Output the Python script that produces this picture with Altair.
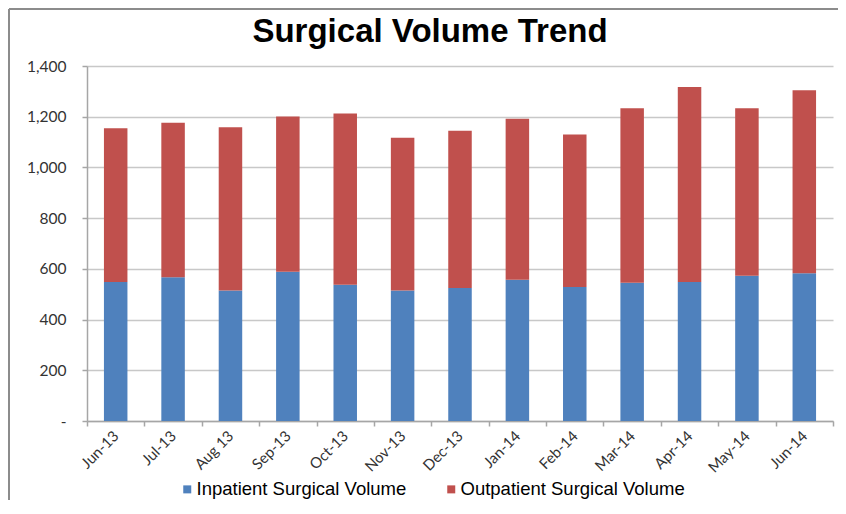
import altair as alt
import pandas as pd

months = ["Jun-13", "Jul-13", "Aug 13", "Sep-13", "Oct-13", "Nov-13", "Dec-13",
          "Jan-14", "Feb-14", "Mar-14", "Apr-14", "May-14", "Jun-14"]
inpatient = [548, 567, 515, 589, 537, 515, 525, 557, 528, 545, 548, 573, 583]
outpatient = [607, 609, 643, 612, 676, 602, 620, 635, 602, 688, 769, 660, 721]
series = ["Inpatient Surgical Volume", "Outpatient Surgical Volume"]
colors = ["#4F81BD", "#C0504D"]
y_ticks = [0, 200, 400, 600, 800, 1000, 1200, 1400]

rows = []
for m, a, b in zip(months, inpatient, outpatient):
    rows.append({"month": m, "series": series[0], "value": a, "ord": 0})
    rows.append({"month": m, "series": series[1], "value": b, "ord": 1})
df = pd.DataFrame(rows)

bars = alt.Chart(df).mark_bar(size=23.5).encode(
    x=alt.X("month:N", sort=months, title=None,
            scale=alt.Scale(paddingInner=0, paddingOuter=0),
            axis=alt.Axis(labelAngle=315, labelAlign="right", labelBaseline="middle",
                          labelFont="Lato", labelFontSize=15, labelColor="#333333",
                          labelPadding=7, tickBand="extent", tickSize=5,
                          tickColor="#a6a6a6", domainColor="#a6a6a6", domainWidth=1.5,
                          tickWidth=1.5, grid=False)),
    y=alt.Y("value:Q", stack="zero", title=None,
            scale=alt.Scale(domain=[0, 1400], nice=False),
            axis=alt.Axis(values=y_ticks,
                          labelExpr="datum.value == 0 ? '-' : format(datum.value, ',')",
                          labelFont="Lato", labelFontSize=15.5, labelColor="#333333",
                          labelPadding=16, tickSize=5, tickColor="#a6a6a6",
                          tickWidth=1.5, domainColor="#a6a6a6", domainWidth=1.5,
                          gridColor="#c8c8c8", gridWidth=1.5)),
    color=alt.Color("series:N", scale=alt.Scale(domain=series, range=colors),
                    legend=alt.Legend(title=None, orient="none", direction="horizontal",
                                      legendX=91, legendY=414, symbolType="square",
                                      symbolSize=64, symbolStrokeWidth=0,
                                      labelFont="Liberation Sans", labelFontSize=18.5,
                                      labelColor="#000000", labelOffset=0,
                                      labelLimit=400, columnPadding=35)),
    order=alt.Order("ord:Q"),
)

frame_df = pd.DataFrame({"k": [0]})
frame_left = alt.Chart(frame_df).mark_rule(color="#8c8c8c", strokeWidth=2).encode(
    x=alt.value(-78), x2=alt.value(-78), y=alt.value(-57), y2=alt.value(440))
frame_top = alt.Chart(frame_df).mark_rule(color="#8c8c8c", strokeWidth=2).encode(
    x=alt.value(-78), x2=alt.value(751), y=alt.value(-57), y2=alt.value(-57))

chart = alt.layer(bars, frame_left, frame_top).properties(
    width=746, height=355,
    background="white",
    autosize=alt.AutoSizeParams(type="none"),
    padding={"left": 79, "top": 58, "right": 5, "bottom": 79},
    title=alt.TitleParams("Surgical Volume Trend", font="Liberation Sans",
                          fontSize=33, fontWeight="bold", color="#000000",
                          anchor="middle", dx=-30, offset=0, dy=41),
).configure_view(stroke=None)

chart.save("out.html", embed_options={"renderer": "svg", "actions": False})
